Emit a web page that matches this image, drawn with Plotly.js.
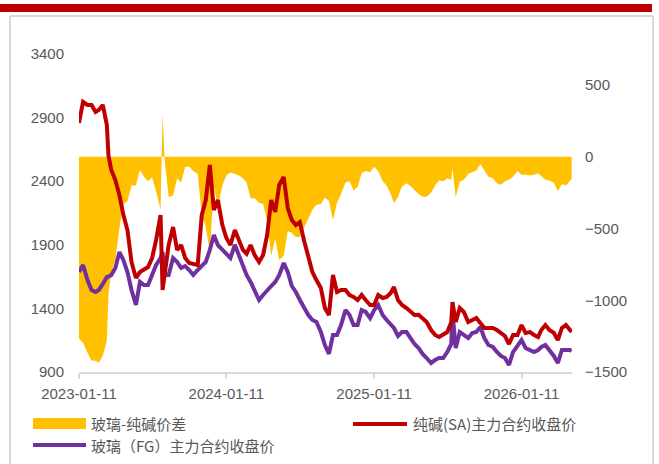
<!DOCTYPE html>
<html>
<head>
<meta charset="utf-8">
<script src="https://cdn.plot.ly/plotly-3.0.1.min.js"></script>
<style>html,body{margin:0;padding:0;background:#fff;}#chart{width:659px;height:464px;}</style>
</head>
<body>
<div id="chart"></div>
<script>
const dates = [
"2023-01-11","2023-01-21","2023-02-01","2023-02-11","2023-02-21","2023-03-01","2023-03-11","2023-03-21","2023-03-25",
"2023-04-01","2023-04-11","2023-04-21","2023-05-01","2023-05-11","2023-05-21","2023-06-01","2023-06-11","2023-06-21",
"2023-07-01","2023-07-11","2023-07-21","2023-08-01","2023-08-06","2023-08-11","2023-08-21","2023-09-01","2023-09-11",
"2023-09-21","2023-10-01","2023-10-11","2023-10-21","2023-11-01","2023-11-11","2023-11-21","2023-12-01","2023-12-11",
"2023-12-21","2024-01-01","2024-01-11","2024-01-21","2024-02-01","2024-02-11","2024-02-21","2024-03-01","2024-03-11",
"2024-03-21","2024-04-01","2024-04-11","2024-04-21","2024-05-01","2024-05-11","2024-05-21","2024-06-01","2024-06-11",
"2024-06-21","2024-07-01","2024-07-11","2024-07-21","2024-08-01","2024-08-11","2024-08-21","2024-09-01","2024-09-11",
"2024-09-21","2024-10-01","2024-10-11","2024-10-21","2024-11-01","2024-11-11","2024-11-21","2024-12-01","2024-12-11",
"2024-12-21","2025-01-01","2025-01-11","2025-01-21","2025-02-01","2025-02-11","2025-02-21","2025-03-01","2025-03-11",
"2025-03-21","2025-04-01","2025-04-11","2025-04-21","2025-05-01","2025-05-11","2025-05-21","2025-06-01","2025-06-11",
"2025-06-21","2025-07-01","2025-07-11","2025-07-21","2025-07-24","2025-08-01","2025-08-11","2025-08-21","2025-09-01",
"2025-09-11","2025-09-21","2025-10-01","2025-10-11","2025-10-21","2025-11-01","2025-11-11","2025-11-21","2025-12-01",
"2025-12-11","2025-12-21","2026-01-01","2026-01-11","2026-01-21","2026-02-01","2026-02-11","2026-02-21","2026-03-01",
"2026-03-11","2026-03-21","2026-04-01","2026-04-11","2026-04-21","2026-05-01","2026-05-11","2026-05-15"
];
// 纯碱(SA)主力合约收盘价
const sodaAsh = [
2858,3023,2999,2999,2944,2960,2999,2842,2600,
2488,2409,2291,2134,2016,1765,1639,1686,1702,
1725,1796,1938,2134,1545,1663,1898,2040,1859,
1898,1796,1757,1749,1741,2134,2252,2527,2174,
2252,2056,1953,1898,2016,1940,1860,1830,1898,
1820,1765,1820,1977,2252,2158,2370,2433,2189,
2095,2056,2079,1938,1796,1686,1623,1560,1403,
1348,1663,1529,1545,1545,1505,1490,1466,1505,
1466,1427,1427,1505,1482,1490,1521,1568,1466,
1427,1403,1372,1348,1350,1324,1293,1230,1191,
1175,1191,1214,1290,1450,1293,1403,1372,1293,
1309,1324,1285,1246,1246,1246,1230,1207,1183,
1120,1191,1191,1269,1207,1214,1191,1175,1230,
1269,1230,1207,1151,1246,1269,1230,1214
];
// 玻璃（FG）主力合约收盘价
const glass = [
1686,1741,1623,1545,1529,1545,1592,1647,1650,
1663,1718,1843,1780,1686,1545,1427,1608,1584,
1584,1663,1741,1796,1843,1663,1663,1796,1765,
1718,1733,1702,1663,1702,1733,1765,1859,1977,
1898,1859,1820,1796,1900,1820,1733,1663,1608,
1545,1466,1505,1545,1576,1608,1663,1757,1686,
1576,1529,1466,1403,1348,1309,1293,1214,1112,
1042,1191,1191,1269,1387,1348,1269,1269,1387,
1372,1324,1387,1427,1348,1309,1269,1246,1183,
1214,1214,1167,1120,1089,1042,1010,971,994,
1010,1010,1057,1120,1372,1089,1214,1191,1167,
1207,1214,1254,1167,1112,1097,1057,1026,1010,
955,1057,1112,1151,1089,1073,1057,1073,1097,
1112,1073,1026,971,1073,1073,1073,1065
];
// 玻璃-纯碱价差
const spread = [
-1268,-1296,-1366,-1422,-1422,-1436,-1387,-1282,-950,
-808,-711,-500,-330,-310,-200,-200,-90,-140,
-170,-145,-240,-370,298,-20,-280,-270,-150,
-180,-70,-70,-100,-120,-400,-490,-660,-200,
-350,-200,-130,-110,-120,-130,-150,-180,-290,
-290,-320,-330,-450,-690,-570,-720,-690,-520,
-530,-560,-560,-500,-430,-370,-335,-330,-285,
-306,-440,-320,-260,-180,-170,-235,-210,-115,
-100,-108,-70,-100,-170,-200,-260,-322,-280,
-208,-185,-204,-232,-260,-278,-278,-250,-200,
-166,-170,-150,-160,-80,-280,-175,-160,-120,
-105,-95,-50,-95,-140,-150,-185,-195,-170,
-160,-140,-100,-125,-125,-130,-125,-115,-135,
-160,-165,-181,-240,-190,-200,-165,-155
];
const xTickVals = ["2023-01-11","2024-01-11","2025-01-11","2026-01-11"];
const xTickText = ["2023-01-11","2024-01-11","2025-01-11","2026-01-11"];
const leftTicks = [900,1400,1900,2400,2900,3400];
const rightTicks = [-1500,-1000,-500,0,500];
const legendNames = ["玻璃-纯碱价差","纯碱(SA)主力合约收盘价","玻璃（FG）主力合约收盘价"];
const colors = {spread:"#FFC000", soda:"#C00000", glass:"#7030A0"};

const tickFont = {family:"Liberation Sans, Arial, sans-serif", size:15, color:"#595959"};
const legFont = {family:"Noto Sans CJK SC, sans-serif", size:15, color:"#595959"};

const traces = [
  {x:dates, y:spread, name:legendNames[0], type:"scatter", mode:"lines", yaxis:"y",
   fill:"tozeroy", fillcolor:colors.spread, line:{width:0, color:colors.spread}},
  {x:dates, y:glass, name:legendNames[2], type:"scatter", mode:"lines", yaxis:"y2",
   line:{width:4, color:colors.glass}},
  {x:dates, y:sodaAsh, name:legendNames[1], type:"scatter", mode:"lines", yaxis:"y2",
   line:{width:4, color:colors.soda}}
];

// pixel helpers for decoration placement (plot area: x 79..572, y 54..372)
const L=79, W=493, B=372, H=318;
const px = v => (v - L) / W;
const py = v => (B - v) / H;

const shapes = [
  {type:"rect", xref:"paper", yref:"paper", x0:px(0), x1:px(652), y0:py(12), y1:py(4), fillcolor:"#C00000", line:{width:0}},
  {type:"line", xref:"paper", yref:"paper", x0:px(10), x1:px(10), y0:py(16), y1:py(470), line:{color:"#d9d9d9", width:2}},
  {type:"line", xref:"paper", yref:"paper", x0:px(653), x1:px(653), y0:py(16), y1:py(470), line:{color:"#d9d9d9", width:2}},
  {type:"line", xref:"paper", yref:"paper", x0:px(10), x1:px(653), y0:py(16), y1:py(16), line:{color:"#d9d9d9", width:2}},
  // legend symbols
  {type:"rect", xref:"paper", yref:"paper", x0:px(33), x1:px(86), y0:py(429), y1:py(418), fillcolor:colors.spread, line:{width:0}},
  {type:"line", xref:"paper", yref:"paper", x0:px(353), x1:px(407), y0:py(424), y1:py(424), line:{color:colors.soda, width:4}},
  {type:"line", xref:"paper", yref:"paper", x0:px(33), x1:px(86), y0:py(445), y1:py(445), line:{color:colors.glass, width:4}}
];
const annotations = [
  {xref:"paper", yref:"paper", x:px(90), y:py(423.5), xanchor:"left", yanchor:"middle", showarrow:false, borderpad:0, text:legendNames[0], font:legFont},
  {xref:"paper", yref:"paper", x:px(412), y:py(423.5), xanchor:"left", yanchor:"middle", showarrow:false, borderpad:0, text:legendNames[1], font:legFont},
  {xref:"paper", yref:"paper", x:px(90), y:py(445.5), xanchor:"left", yanchor:"middle", showarrow:false, borderpad:0, text:legendNames[2], font:legFont}
];

const layout = {
  width:659, height:464,
  margin:{l:79, r:87, t:54, b:92},
  paper_bgcolor:"#ffffff", plot_bgcolor:"#ffffff",
  showlegend:false,
  xaxis:{type:"date", range:["2023-01-11","2026-05-16"], tickvals:xTickVals, ticktext:xTickText,
    showgrid:false, zeroline:false, showline:true, linecolor:"#d9d9d9", linewidth:2,
    ticks:"outside", ticklen:5, tickwidth:2, tickcolor:"#d9d9d9", tickfont:tickFont, ticklabelstandoff:2},
  yaxis:{range:[-1500,716], side:"right", tickvals:rightTicks, showgrid:false, zeroline:false,
    showline:false, ticks:"", tickfont:tickFont, ticklabelstandoff:12},
  yaxis2:{range:[900,3400], side:"left", overlaying:"y", tickvals:leftTicks, showgrid:false, zeroline:false,
    showline:false, ticks:"", tickfont:tickFont, ticklabelstandoff:14},
  shapes:shapes, annotations:annotations
};

Plotly.newPlot("chart", traces, layout, {staticPlot:true, displayModeBar:false});
</script>
</body>
</html>
